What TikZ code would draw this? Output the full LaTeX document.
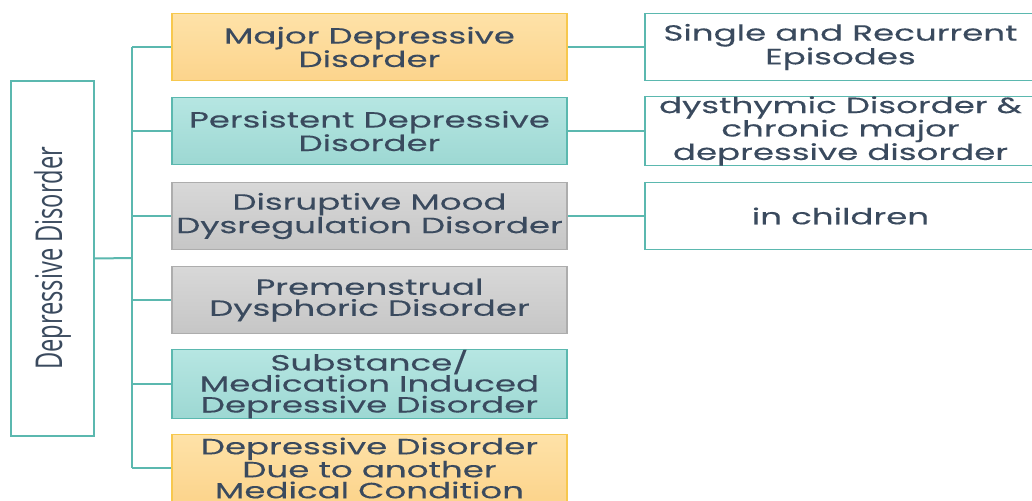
\documentclass[tikz,border=0pt]{standalone}
\usepackage{fontspec}
\newfontfamily\boxfont[FakeStretch=1.55, FakeBold=0.25]{Poppins}
\newfontfamily\sidefont[FakeStretch=0.64]{Open Sans}
\definecolor{txt}{HTML}{3A4A5E}
\definecolor{tealline}{HTML}{5BB8AF}
\definecolor{ortop}{HTML}{FEE2A8}
\definecolor{orbot}{HTML}{FCD48C}
\definecolor{orline}{HTML}{F7C84E}
\definecolor{tltop}{HTML}{B6E6E2}
\definecolor{tlbot}{HTML}{9DD8D3}
\definecolor{gytop}{HTML}{D8D8D8}
\definecolor{gybot}{HTML}{C6C6C6}
\definecolor{gyline}{HTML}{ADADAD}
\tikzset{catbox/.style={draw, line width=1.3pt, minimum width=395pt, minimum height=67pt, inner sep=0pt, align=center, text=txt, font=\boxfont\fontsize{22}{21}\selectfont},
orbox/.style={catbox, draw=orline, top color=ortop, bottom color=orbot},
tlbox/.style={catbox, draw=tealline, top color=tltop, bottom color=tlbot},
gybox/.style={catbox, draw=gyline, top color=gytop, bottom color=gybot},
notebox/.style={catbox, draw=tealline, fill=white, minimum width=391pt},
link/.style={draw=tealline, line width=2pt}}

\begin{document}
\begin{tikzpicture}[x=1pt, y=-1pt]
\useasboundingbox[fill=white] (0,0) rectangle (1032,500);
\coordinate (trunktop) at (132,47);
\coordinate (hub) at (132,258);
\coordinate (trunkbot) at (132,468);

\node[draw=tealline, line width=1.3pt, fill=white, rotate=90, minimum width=355pt, minimum height=83pt, inner sep=0pt, text=txt, font=\sidefont\fontsize{37}{40}\selectfont] (side) at (52.5,258.5) {Depressive Disorder};

\node[orbox] (mdd) at (369.5,47) {Major Depressive\\Disorder};
\node[tlbox] (pdd) at (369.5,131) {Persistent Depressive\\Disorder};
\node[gybox] (dmdd) at (369.5,216) {Disruptive Mood\\Dysregulation Disorder};
\node[gybox] (pmdd) at (369.5,300) {Premenstrual\\Dysphoric Disorder};
\node[tlbox] (smid) at (369.5,384) {Substance/\\Medication Induced\\Depressive Disorder};
\node[orbox] (ddmc) at (369.5,468) {Depressive Disorder\\Due to another\\Medical Condition};

\node[notebox] (episodes) at (840.5,47) {Single and Recurrent\\Episodes};
\node[notebox] (dysthymic) at (840.5,131) {dysthymic Disorder \&\\chronic major\\depressive disorder};
\node[notebox] (children) at (840.5,216) {in children};

\draw[link] (side.south) -- (hub);
\draw[link] (trunktop) -- (trunkbot);
\draw[link] (trunktop) -- (mdd.west);
\draw[link] (pdd.west -| hub) -- (pdd.west);
\draw[link] (dmdd.west -| hub) -- (dmdd.west);
\draw[link] (pmdd.west -| hub) -- (pmdd.west);
\draw[link] (smid.west -| hub) -- (smid.west);
\draw[link] (trunkbot) -- (ddmc.west);

\draw[link] (mdd) -- (episodes);
\draw[link] (pdd) -- (dysthymic);
\draw[link] (dmdd) -- (children);
\end{tikzpicture}
\end{document}
